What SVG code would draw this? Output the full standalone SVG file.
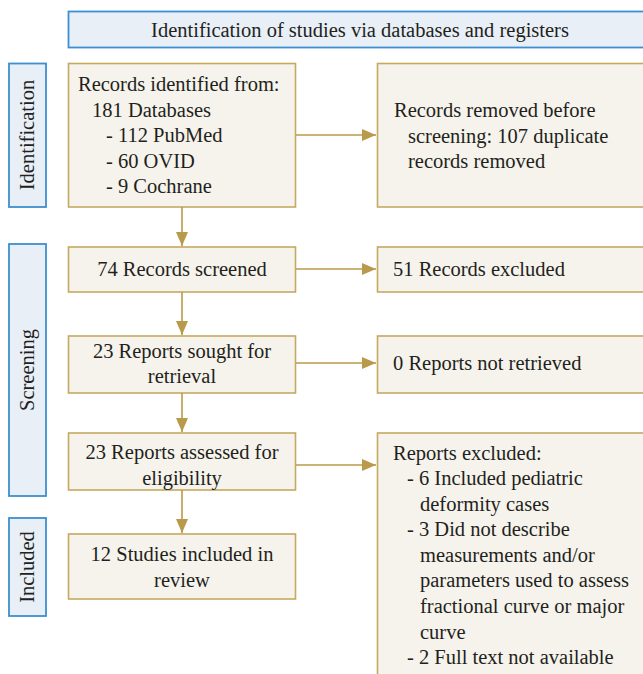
<svg xmlns="http://www.w3.org/2000/svg" width="643" height="674" viewBox="0 0 643 674">
<style>
.box{fill:#f6f3ec;stroke:#c6a95f;stroke-width:1.6}
.side{fill:#e9eff7;stroke:#3d8fcf;stroke-width:1.8}
.t{font-family:"Liberation Serif",serif;font-size:20.5px;fill:#231f20}
.c{text-anchor:middle}
.ln{stroke:#b99a4a;stroke-width:1.6;fill:none}
</style>
<defs>
<marker id="ah" viewBox="0 0 14 12" refX="14" refY="6" markerWidth="14" markerHeight="12" markerUnits="userSpaceOnUse" orient="auto">
<path d="M0,0 L14,6 L0,12 z" fill="#b99a4a"/>
</marker>
</defs>
<g id="header">
<rect class="side" x="68.5" y="11.5" width="580" height="36"/>
<text class="t c" x="360" y="37">Identification of studies via databases and registers</text>
</g>
<g id="lbl-identification">
<rect class="side" x="9" y="63.5" width="37" height="143.5"/>
<text class="t c" transform="translate(34,135) rotate(-90)">Identification</text>
</g>
<g id="lbl-screening">
<rect class="side" x="9" y="244" width="37" height="252"/>
<text class="t c" transform="translate(34,370) rotate(-90)">Screening</text>
</g>
<g id="lbl-included">
<rect class="side" x="9" y="518" width="37" height="98"/>
<text class="t c" transform="translate(34,567) rotate(-90)">Included</text>
</g>
<g id="n-identified">
<rect class="box" x="68.5" y="63.5" width="227" height="143.5"/>
<text class="t" x="78" y="91">Records identified from:</text>
<text class="t" x="92" y="117">181 Databases</text>
<text class="t" x="106" y="142">- 112 PubMed</text>
<text class="t" x="106" y="168">- 60 OVID</text>
<text class="t" x="106" y="193">- 9 Cochrane</text>
</g>
<g id="n-removed">
<rect class="box" x="377.5" y="63.5" width="270" height="143.5"/>
<text class="t" x="394" y="117">Records removed before</text>
<text class="t" x="408" y="143">screening: 107 duplicate</text>
<text class="t" x="408" y="168">records removed</text>
</g>
<g id="n-screened">
<rect class="box" x="68.5" y="247" width="227" height="45"/>
<text class="t c" x="182" y="276">74 Records screened</text>
</g>
<g id="n-excluded1">
<rect class="box" x="377.5" y="247" width="270" height="45"/>
<text class="t" x="393" y="276">51 Records excluded</text>
</g>
<g id="n-sought">
<rect class="box" x="68.5" y="336" width="227" height="57"/>
<text class="t c" x="182" y="358">23 Reports sought for</text>
<text class="t c" x="182" y="383">retrieval</text>
</g>
<g id="n-notretrieved">
<rect class="box" x="377.5" y="336" width="270" height="57"/>
<text class="t" x="393" y="370">0 Reports not retrieved</text>
</g>
<g id="n-assessed">
<rect class="box" x="68.5" y="433" width="227" height="57"/>
<text class="t c" x="182" y="459">23 Reports assessed for</text>
<text class="t c" x="182" y="485">eligibility</text>
</g>
<g id="n-excluded2">
<rect class="box" x="377.5" y="433" width="270" height="250"/>
<text class="t" x="393" y="460">Reports excluded:</text>
<text class="t" x="407" y="485">- 6 Included pediatric</text>
<text class="t" x="420" y="511">deformity cases</text>
<text class="t" x="407" y="536">- 3 Did not describe</text>
<text class="t" x="420" y="562">measurements and/or</text>
<text class="t" x="420" y="587">parameters used to assess</text>
<text class="t" x="420" y="613">fractional curve or major</text>
<text class="t" x="420" y="639">curve</text>
<text class="t" x="407" y="664">- 2 Full text not available</text>
</g>
<g id="n-included">
<rect class="box" x="68.5" y="534" width="227" height="65"/>
<text class="t c" x="182" y="561">12 Studies included in</text>
<text class="t c" x="182" y="587">review</text>
</g>
<g id="connectors">
<line class="ln" x1="182" y1="207" x2="182" y2="246" marker-end="url(#ah)"/>
<line class="ln" x1="182" y1="292" x2="182" y2="335" marker-end="url(#ah)"/>
<line class="ln" x1="182" y1="393" x2="182" y2="432" marker-end="url(#ah)"/>
<line class="ln" x1="182" y1="490" x2="182" y2="533" marker-end="url(#ah)"/>
<line class="ln" x1="296" y1="135" x2="376" y2="135" marker-end="url(#ah)"/>
<line class="ln" x1="296" y1="269" x2="376" y2="269" marker-end="url(#ah)"/>
<line class="ln" x1="296" y1="363" x2="376" y2="363" marker-end="url(#ah)"/>
<line class="ln" x1="296" y1="465" x2="376" y2="465" marker-end="url(#ah)"/>
</g>
</svg>
